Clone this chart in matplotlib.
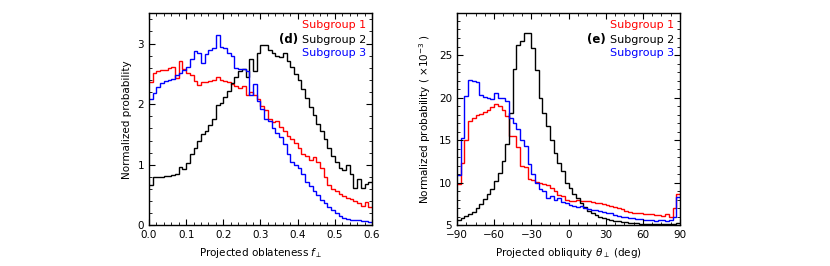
import numpy as np
import matplotlib
matplotlib.use("Agg")
import matplotlib.pyplot as plt
from matplotlib.ticker import MultipleLocator, AutoMinorLocator

# projected oblateness histograms, 60 bins over 0..0.6
f_edges = np.linspace(0.0, 0.6, 61)
f_sub1 = [2.37, 2.52, 2.55, 2.56, 2.57, 2.60, 2.62, 2.43, 2.71, 2.58,
          2.52, 2.48, 2.38, 2.32, 2.36, 2.37, 2.38, 2.40, 2.45, 2.40,
          2.38, 2.36, 2.33, 2.30, 2.27, 2.30, 2.15, 2.20, 2.15, 2.08,
          1.97, 1.90, 1.75, 1.70, 1.72, 1.62, 1.56, 1.48, 1.42, 1.36,
          1.28, 1.18, 1.15, 1.08, 1.12, 1.05, 0.94, 0.80, 0.66, 0.60,
          0.56, 0.52, 0.48, 0.45, 0.43, 0.40, 0.36, 0.32, 0.38, 0.31]
f_sub2 = [0.67, 0.80, 0.80, 0.80, 0.81, 0.82, 0.83, 0.85, 0.97, 0.93,
          1.03, 1.17, 1.28, 1.40, 1.50, 1.55, 1.66, 1.75, 1.98, 2.02,
          2.12, 2.22, 2.35, 2.45, 2.55, 2.58, 2.45, 2.75, 2.55, 2.85,
          2.98, 2.97, 2.90, 2.85, 2.80, 2.78, 2.85, 2.72, 2.62, 2.50,
          2.40, 2.25, 2.10, 1.95, 1.82, 1.68, 1.55, 1.42, 1.28, 1.15,
          1.05, 0.95, 0.92, 1.00, 0.85, 0.62, 0.76, 0.62, 0.68, 0.72]
f_sub3 = [2.08, 2.18, 2.28, 2.35, 2.38, 2.40, 2.42, 2.48, 2.52, 2.56,
          2.62, 2.75, 2.87, 2.85, 2.68, 2.82, 2.90, 2.92, 3.15, 2.95,
          2.92, 2.85, 2.80, 2.60, 2.58, 2.58, 2.55, 2.15, 2.33, 2.05,
          1.92, 1.75, 1.72, 1.60, 1.52, 1.45, 1.35, 1.18, 1.05, 1.00,
          0.95, 0.84, 0.72, 0.65, 0.56, 0.50, 0.42, 0.36, 0.30, 0.25,
          0.20, 0.15, 0.12, 0.10, 0.09, 0.09, 0.08, 0.07, 0.07, 0.05]

# projected obliquity histograms, 60 bins over -90..90 deg (x1e-3)
t_edges = np.linspace(-90, 90, 61)
t_sub1 = [9.8, 12.3, 15.0, 17.3, 17.6, 17.9, 18.1, 18.3, 18.5, 18.9,
          19.2, 19.0, 18.5, 17.8, 15.5, 15.5, 14.2, 12.0, 11.8, 10.4,
          10.3, 10.1, 10.0, 9.8, 9.7, 9.4, 9.0, 8.6, 8.4, 8.0,
          7.9, 7.9, 8.0, 7.9, 7.8, 7.8, 7.7, 7.6, 7.6, 7.5,
          7.4, 7.3, 7.1, 7.0, 6.9, 6.7, 6.6, 6.5, 6.4, 6.4,
          6.3, 6.3, 6.3, 6.2, 6.2, 6.1, 6.3, 6.0, 7.0, 8.7]
t_sub2 = [5.6, 5.9, 6.1, 6.3, 6.6, 7.0, 7.5, 8.1, 8.7, 9.3,
          10.2, 11.2, 12.5, 14.5, 18.2, 23.3, 26.2, 26.7, 27.6, 27.6,
          25.8, 23.2, 20.0, 18.2, 16.7, 15.0, 13.5, 12.3, 11.4, 10.0,
          9.4, 8.7, 8.2, 7.6, 7.1, 6.7, 6.4, 6.2, 6.0, 5.85,
          5.7, 5.6, 5.5, 5.45, 5.4, 5.35, 5.3, 5.3, 5.25, 5.2,
          5.2, 5.2, 5.15, 5.15, 5.15, 5.1, 5.1, 5.15, 5.1, 5.3]
t_sub3 = [10.9, 15.2, 20.2, 22.1, 22.0, 21.8, 20.3, 20.1, 19.9, 19.8,
          20.5, 19.9, 20.0, 19.6, 17.6, 17.0, 16.3, 15.0, 14.3, 12.2,
          11.0, 10.0, 9.3, 9.0, 8.2, 8.5, 8.0, 8.2, 7.7, 7.6,
          7.4, 7.3, 7.2, 7.3, 7.0, 6.9, 6.8, 6.8, 6.7, 6.6,
          6.5, 6.4, 6.2, 6.1, 6.0, 6.0, 5.9, 5.8, 5.7, 5.7,
          5.6, 5.6, 5.6, 5.5, 5.6, 5.6, 5.5, 5.6, 6.0, 8.3]

labels = ["Subgroup 1", "Subgroup 2", "Subgroup 3"]
colors = ["#ff0000", "black", "#0000ff"]

plt.rcParams.update({
    "font.family": "DejaVu Sans",
    "font.size": 7.5,
    "mathtext.fontset": "dejavusans",
    "xtick.direction": "in",
    "ytick.direction": "in",
    "xtick.top": True,
    "ytick.right": True,
    "xtick.major.size": 4,
    "ytick.major.size": 4,
    "xtick.minor.size": 2,
    "ytick.minor.size": 2,
    "axes.linewidth": 1.0,
})

fig = plt.figure(figsize=(8.3, 2.66), dpi=100)
ax1 = fig.add_axes([0.1795, 0.153, 0.2687, 0.797])
ax2 = fig.add_axes([0.5506, 0.153, 0.2687, 0.797])


def legend_text(ax, tag):
    ys = [0.945, 0.875, 0.815]
    txts = []
    for lab, c, y in zip(labels, colors, ys):
        txts.append(ax.text(0.975, y, lab, color=c, ha="right", va="center",
                            fontsize=8, transform=ax.transAxes))
    ax.annotate(tag + " ", xy=(0, 0.5), xycoords=txts[1], ha="right",
                va="center", fontsize=8.5, fontweight="bold")


for vals, c in zip([f_sub1, f_sub2, f_sub3], colors):
    ax1.stairs(vals, f_edges, color=c, lw=1.0, baseline=None)
ax1.set_xlim(0, 0.6)
ax1.set_ylim(0, 3.5)
ax1.xaxis.set_major_locator(MultipleLocator(0.1))
ax1.yaxis.set_major_locator(MultipleLocator(1))
ax1.xaxis.set_minor_locator(AutoMinorLocator())
ax1.yaxis.set_minor_locator(AutoMinorLocator())
ax1.xaxis.set_major_formatter(plt.FormatStrFormatter("%.1f"))
ax1.set_xlabel(r"Projected oblateness $f_\perp$")
ax1.set_ylabel("Normalized probability")
legend_text(ax1, "(d)")

for vals, c in zip([t_sub1, t_sub2, t_sub3], colors):
    ax2.stairs(vals, t_edges, color=c, lw=1.0, baseline=None)
ax2.set_xlim(-90, 90)
ax2.set_ylim(5, 29.9)
ax2.xaxis.set_major_locator(MultipleLocator(30))
ax2.yaxis.set_major_locator(MultipleLocator(5))
ax2.xaxis.set_minor_locator(AutoMinorLocator())
ax2.yaxis.set_minor_locator(AutoMinorLocator())
ax2.set_xlabel(r"Projected obliquity $\theta_\perp$ (deg)")
ax2.set_ylabel(r"Normalized probability ( $\times10^{-3}$ )")
legend_text(ax2, "(e)")

fig.savefig("out.png", dpi=100)
